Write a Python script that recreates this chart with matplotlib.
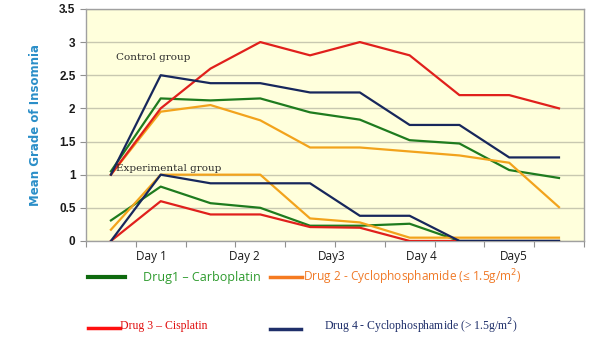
import matplotlib.pyplot as plt
from matplotlib.lines import Line2D
import numpy as np

# 10 measurement points across 5 days
points = list(range(10))
day_labels = ['Day 1', 'Day 2', 'Day3', 'Day 4', 'Day5']
day_pos = [0.82, 2.69, 4.43, 6.23, 8.1]

# control group
ctrl_carbo = [1.05, 2.15, 2.12, 2.15, 1.94, 1.83, 1.52, 1.47, 1.07, 0.95]
ctrl_cyclo_low = [1.0, 1.95, 2.05, 1.82, 1.41, 1.41, 1.35, 1.29, 1.18, 0.51]
ctrl_cis = [1.0, 2.0, 2.6, 3.0, 2.8, 3.0, 2.8, 2.2, 2.2, 2.0]
ctrl_cyclo_high = [1.0, 2.5, 2.38, 2.38, 2.24, 2.24, 1.75, 1.75, 1.26, 1.26]

# experimental group
exp_carbo = [0.31, 0.82, 0.57, 0.5, 0.23, 0.23, 0.26, 0.0, 0.0, 0.0]
exp_cyclo_low = [0.17, 1.0, 1.0, 1.0, 0.34, 0.28, 0.05, 0.05, 0.05, 0.05]
exp_cis = [0.0, 0.6, 0.4, 0.4, 0.21, 0.2, 0.0, 0.0, 0.0, 0.0]
exp_cyclo_high = [0.0, 1.0, 0.87, 0.87, 0.87, 0.38, 0.38, 0.0, 0.0, 0.0]

GREEN, ORANGE, RED, NAVY = '#1E7B1E', '#F2A31C', '#E0201C', '#17275C'

fig = plt.figure(figsize=(6.02, 3.57), dpi=100, facecolor='white')
ax = fig.add_axes([0.1429, 0.325, 0.827, 0.650])
ax.set_facecolor('#FFFFDC')

for series, color in [(ctrl_carbo, GREEN), (ctrl_cyclo_low, ORANGE),
                      (ctrl_cis, RED), (ctrl_cyclo_high, NAVY),
                      (exp_carbo, GREEN), (exp_cyclo_low, ORANGE),
                      (exp_cis, RED), (exp_cyclo_high, NAVY)]:
    ax.plot(points, series, color=color, linewidth=1.6, zorder=3)

ax.set_xlim(-0.5, 9.5)
ax.set_ylim(0, 3.5)
ax.set_yticks(np.arange(0, 3.51, 0.5))
ax.set_yticklabels(['0', '0.5', '1', '1.5', '2', '2.5', '3', '3.5'],
                   fontsize=8.5, fontweight='bold', color='#1A1A1A',
                   family='Liberation Sans')
ax.set_xticks(np.arange(-0.5, 9.6, 1.0))
ax.set_xticklabels([])
ax.tick_params(axis='both', direction='out', length=4, color='#909090', width=0.8)
ax.grid(axis='y', color='#C8C8B0', linewidth=1.0, zorder=1)
for s in ax.spines.values():
    s.set_color('#A0A0A0')
    s.set_linewidth(1.0)

for lbl, xp in zip(day_labels, day_pos):
    ax.text(xp, -0.13, lbl, ha='center', va='top', fontsize=8.5,
            family='Open Sans', color='#1A1A1A', transform=ax.transData,
            clip_on=False)

ax.set_ylabel('Mean Grade of Insomnia', fontsize=8.5, fontweight='bold',
              color='#2A8EC8', family='DejaVu Sans', labelpad=12)

ax.text(0.1, 2.73, 'Control group', fontsize=7.5, family='DejaVu Serif',
        color='#2A2A2A', zorder=4)
ax.text(0.1, 1.06, 'Experimental group', fontsize=7.5, family='DejaVu Serif',
        color='#2A2A2A', zorder=4)

# legend drawn as in the source document
fig.add_artist(Line2D([88 / 602, 125 / 602], [1 - 277 / 357] * 2,
                      color='#0E6A0E', linewidth=3))
fig.text(143 / 602, 1 - 277 / 357, 'Drug1 \u2013 Carboplatin', fontsize=9,
         family='Open Sans', color='#2E9B2E', va='center')
fig.add_artist(Line2D([270 / 602, 302 / 602], [1 - 277 / 357] * 2,
                      color='#F57A20', linewidth=2.5))
fig.text(303 / 602, 1 - 277 / 357,
         'Drug 2 - Cyclophosphamide (\u2264 1.5g/m$^2$)', fontsize=8.6,
         family='Open Sans', color='#F07A28', va='center')
fig.add_artist(Line2D([88 / 602, 120 / 602], [1 - 328 / 357] * 2,
                      color='#FF1010', linewidth=2.5))
fig.text(120 / 602, 1 - 326 / 357, 'Drug 3 \u2013 Cisplatin', fontsize=8.5,
         family='Liberation Serif', color='#E01010', va='center')
fig.add_artist(Line2D([270 / 602, 301 / 602], [1 - 329 / 357] * 2,
                      color='#1F2F6A', linewidth=2.5))
fig.text(324 / 602, 1 - 326 / 357,
         'Drug 4 - Cyclophosphamide (> 1.5g/m$^2$)', fontsize=8.5,
         family='Liberation Serif', color='#1F2F6A', va='center')

fig.savefig('out.png', dpi=100)
